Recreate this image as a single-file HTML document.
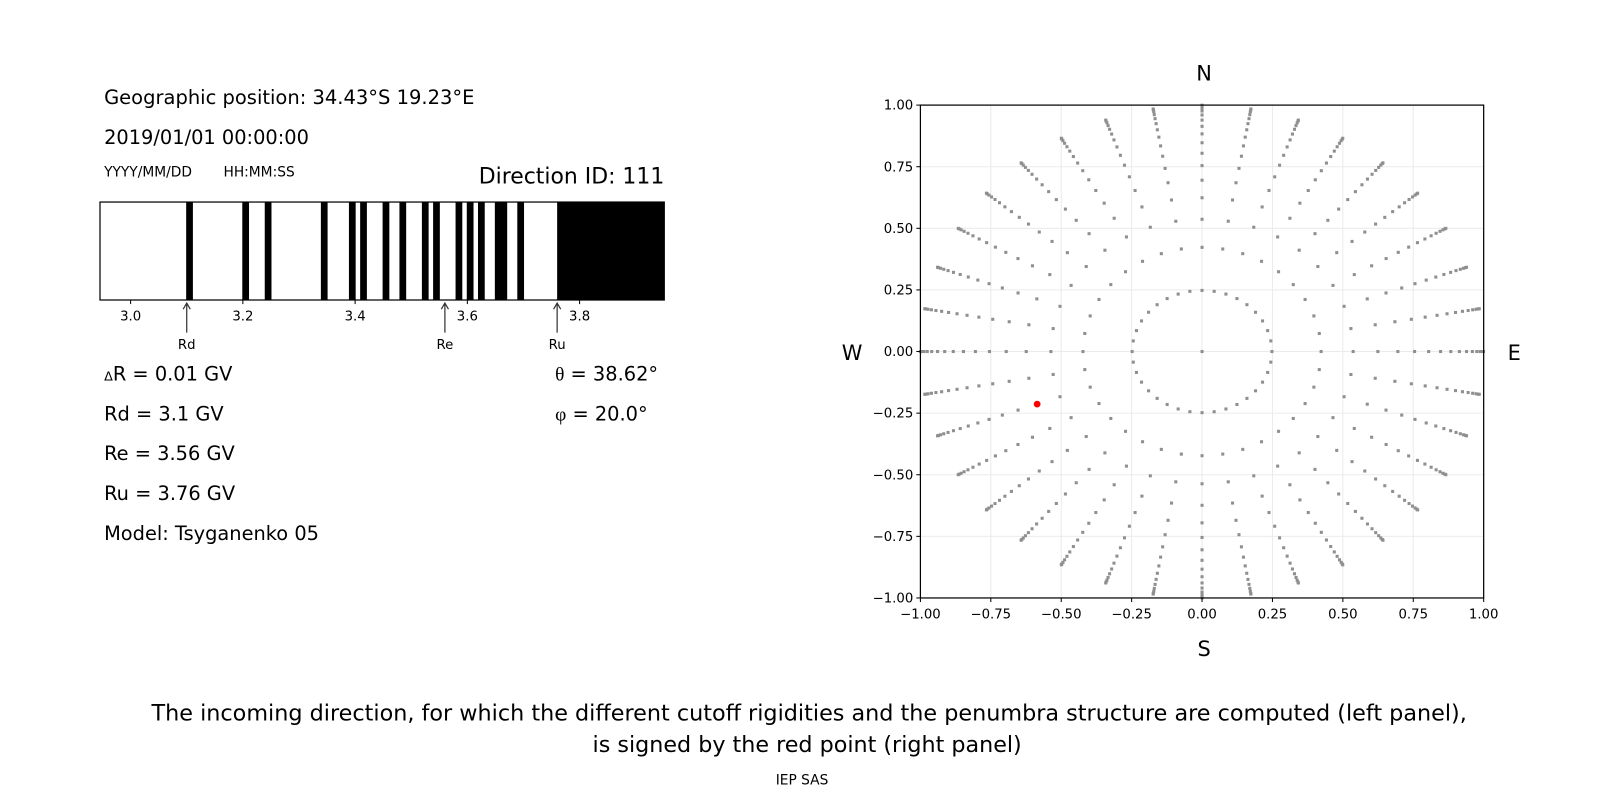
<!DOCTYPE html>
<html><head><meta charset="utf-8"><style>
body{margin:0;background:#fff;}
svg text{font-family:"DejaVu Sans","Liberation Sans",sans-serif;fill:#000;}
</style></head><body>
<svg id="s" width="1600" height="800" viewBox="0 0 1600 800" xmlns="http://www.w3.org/2000/svg">
<rect width="1600" height="800" fill="#fff"/>
<g transform="scale(1.020408)">
<text x="102" y="102" font-size="19" textLength="363" lengthAdjust="spacingAndGlyphs">Geographic position: 34.43°S 19.23°E</text>
<text x="102" y="141" font-size="19">2019/01/01 00:00:00</text>
<text x="102" y="173" font-size="13.5">YYYY/MM/DD</text>
<text x="219" y="173" font-size="13.5">HH:MM:SS</text>
<text x="651" y="180" font-size="21.5" text-anchor="end">Direction ID: 111</text>
<g id="bar"></g>
<rect x="98" y="198" width="553" height="96" fill="none" stroke="#000" stroke-width="1.2"/>
<g font-size="13" text-anchor="middle">
<text x="128" y="314">3.0</text><text x="238" y="314">3.2</text><text x="348" y="314">3.4</text><text x="458" y="314">3.6</text><text x="568" y="314">3.8</text>
<text x="183" y="342">Rd</text><text x="436" y="342">Re</text><text x="546" y="342">Ru</text>
</g>
<g stroke="#000" stroke-width="1">
<line x1="128" y1="294" x2="128" y2="298"/><line x1="238" y1="294" x2="238" y2="298"/><line x1="348" y1="294" x2="348" y2="298"/><line x1="458" y1="294" x2="458" y2="298"/><line x1="568" y1="294" x2="568" y2="298"/>
</g>
<g stroke="#333" stroke-width="1.2" fill="none">
<path d="M183 326V297M179.5 303L183 297L186.5 303"/>
<path d="M436 326V297M432.5 303L436 297L439.5 303"/>
<path d="M546 326V297M542.5 303L546 297L549.5 303"/>
</g>
<g font-size="19">
<text x="102" y="373"><tspan font-size="12.5">Δ</tspan>R = 0.01 GV</text>
<text x="102" y="412">Rd = 3.1 GV</text>
<text x="102" y="451">Re = 3.56 GV</text>
<text x="102" y="490">Ru = 3.76 GV</text>
<text x="102" y="529">Model: Tsyganenko 05</text>
<text x="544" y="373"><tspan font-family="Liberation Serif">θ</tspan> = 38.62°</text>
<text x="544" y="412"><tspan font-family="Liberation Serif">φ</tspan> = 20.0°</text>
</g>
<g id="grid" stroke="#ebebeb" stroke-width="1"></g>
<g id="dots" fill="#8f8f8f"></g>
<circle cx="1016.4" cy="396" r="3.3" fill="#f00"/>
<rect x="902" y="103" width="552" height="483" fill="none" stroke="#000" stroke-width="1.2"/>
<g id="ticks" font-size="13"></g>
<g font-size="20.5" text-anchor="middle">
<text x="1180" y="79">N</text><text x="1180" y="643">S</text><text x="835" y="353">W</text><text x="1484" y="353">E</text>
</g>
<g font-size="21.8" text-anchor="middle">
<text x="793" y="706" textLength="1289" lengthAdjust="spacingAndGlyphs">The incoming direction, for which the different cutoff rigidities and the penumbra structure are computed (left panel),</text>
<text x="791" y="737">is signed by the red point (right panel)</text>
</g>
<text x="786" y="769" font-size="13.5" text-anchor="middle">IEP SAS</text>
</g>
</svg>
<script>
var NS="http://www.w3.org/2000/svg";
function el(p,t,a){var e=document.createElementNS(NS,t);for(var k in a)e.setAttribute(k,a[k]);p.appendChild(e);return e;}
var bar=document.getElementById("bar");
function px(v){return 128+(v-3.0)*550;}
[3.10,3.20,3.24,3.34,3.39,3.41,3.45,3.48,3.52,3.54,3.58,3.60,3.62,3.65,3.66,3.69].forEach(function(v){
 el(bar,"rect",{x:px(v-0.001),y:198,width:0.012*550,height:96,fill:"#000"});});
el(bar,"rect",{x:px(3.76),y:198,width:651-px(3.76),height:96,fill:"#000"});
var cx=1178,cy=344.5,sx=276,sy=241.5;
var g=document.getElementById("grid"),t=document.getElementById("ticks");
var labs=["−1.00","−0.75","−0.50","−0.25","0.00","0.25","0.50","0.75","1.00"];
for(var i=0;i<9;i++){var v=-1+i*0.25;var x=cx+v*sx,y=cy-v*sy;
 el(g,"line",{x1:x,y1:103,x2:x,y2:586});el(g,"line",{x1:902,y1:y,x2:1454,y2:y});
 el(t,"line",{x1:x,y1:586,x2:x,y2:590,stroke:"#000"});el(t,"line",{x1:898,y1:y,x2:902,y2:y,stroke:"#000"});
 var tx=el(t,"text",{x:x,y:606,"text-anchor":"middle"});tx.textContent=labs[i];
 var ty=el(t,"text",{x:895,y:y+4.5,"text-anchor":"end"});ty.textContent=labs[i];}
var d=document.getElementById("dots");
el(d,"rect",{x:cx-1.5,y:cy-1.5,width:3,height:3});
for(var k=0;k<16;k++){var c=1-(k+0.5)/16;var r=Math.sqrt(1-c*c);
 for(var a=0;a<36;a++){var ang=a*Math.PI/18;var x=cx+r*Math.cos(ang)*sx,y=cy-r*Math.sin(ang)*sy;
  el(d,"rect",{x:(x-1.5).toFixed(1),y:(y-1.5).toFixed(1),width:3,height:3});}}
</script>
</body></html>
